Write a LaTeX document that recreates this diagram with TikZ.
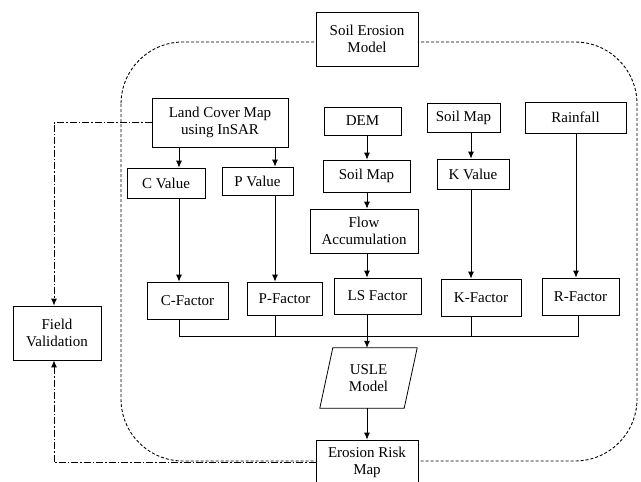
\documentclass[tikz,border=0pt]{standalone}
\usepackage{fontspec}
\setmainfont{Liberation Serif}
\usetikzlibrary{arrows.meta,calc}
\begin{document}
\begin{tikzpicture}[x=1pt,y=-1pt,
  box/.style={draw, line width=0.8pt, fill=white, align=center, inner sep=1pt,
    font=\fontsize{15}{17.5}\selectfont},
  plain/.style={align=center, inner sep=1pt, font=\fontsize{15}{17.5}\selectfont},
  arr/.style={line width=0.8pt, -{Latex[length=7pt,width=6pt]}},
  ln/.style={line width=0.8pt},
  dashbox/.style={line width=0.9pt, dash pattern=on 3pt off 2pt, rounded corners=62pt},
  dd/.style={line width=0.9pt, dash pattern=on 7pt off 2pt on 1.5pt off 2pt},
  ddarr/.style={dd, -{Latex[length=7pt,width=6pt]}}
]
\useasboundingbox (0,0) rectangle (641,482);
\fill[white] (0,0) rectangle (641,482);

% dashed model region
\draw[dashbox] (121,42) rectangle (637,461);

% column coordinates
\coordinate (colC) at (179,0);
\coordinate (colP) at (275,0);
\coordinate (colL) at (367,0);
\coordinate (colK) at (471,0);
\coordinate (colR) at (576,0);
\coordinate (colV) at (54,0);
\coordinate (busL) at (179,336);
\coordinate (busR) at (578,336);

% nodes
\node[box, minimum width=102pt, minimum height=54pt] (sem) at (367,39) {Soil Erosion\\Model};
\node[box, minimum width=136pt, minimum height=49pt] (lcm) at (220,122.5) {Land Cover Map\\using InSAR};
\node[box, minimum width=77pt, minimum height=28pt] (dem) at (362.5,121) {DEM};
\node[box, minimum width=73pt, minimum height=29pt] (smk) at (463.5,117.5) {Soil Map};
\node[box, minimum width=101pt, minimum height=31pt] (rain) at (575.5,117.5) {Rainfall};
\node[box, minimum width=78pt, minimum height=30pt] (cval) at (166,183) {C Value};
\node[box, minimum width=71pt, minimum height=28pt] (pval) at (257.5,181) {P Value};
\node[box, minimum width=87pt, minimum height=32pt] (sm1) at (366.5,176) {Soil Map};
\node[box, minimum width=72pt, minimum height=30pt] (kval) at (473,174) {K Value};
\node[box, minimum width=108pt, minimum height=44pt] (flow) at (364,231) {Flow\\Accumulation};
\node[box, minimum width=81pt, minimum height=37pt] (cfac) at (187.5,300.5) {C-Factor};
\node[box, minimum width=75pt, minimum height=33pt] (pfac) at (284.5,298.5) {P-Factor};
\node[box, minimum width=87pt, minimum height=36pt] (lsf) at (377.5,296) {LS Factor};
\node[box, minimum width=80pt, minimum height=37pt] (kfac) at (481,297.5) {K-Factor};
\node[box, minimum width=77pt, minimum height=37pt] (rfac) at (580.5,296.5) {R-Factor};
\node[plain, minimum width=97pt, minimum height=60pt] (usle) at (368.5,378) {USLE\\Model};
\draw[ln] ([xshift=13pt]usle.north west) -- (usle.north east)
  -- ([xshift=-13pt]usle.south east) -- (usle.south west) -- cycle;
\node[box, minimum width=102pt, minimum height=45pt] (erm) at (367,462.5) {Erosion Risk\\Map};
\node[box, minimum width=88pt, minimum height=54pt] (fv) at (57,333) {Field\\Validation};

% connectors
\draw[arr] (lcm.south -| colC) -- (cval.north -| colC);
\draw[arr] (lcm.south -| colP) -- (pval.north -| colP);
\draw[arr] (dem.south -| colL) -- (sm1.north -| colL);
\draw[arr] (sm1.south -| colL) -- (flow.north -| colL);
\draw[arr] (flow.south -| colL) -- (lsf.north -| colL);
\draw[arr] (smk.south -| colK) -- (kval.north -| colK);
\draw[arr] (cval.south -| colC) -- (cfac.north -| colC);
\draw[arr] (pval.south -| colP) -- (pfac.north -| colP);
\draw[arr] (kval.south -| colK) -- (kfac.north -| colK);
\draw[arr] (rain.south -| colR) -- (rfac.north -| colR);

% bus
\draw[ln] (cfac.south -| busL) -- (busL) -- (busR) -- (rfac.south -| busR);
\draw[ln] (pfac.south -| colP) -- (colP |- busL);
\draw[ln] (kfac.south -| colK) -- (colK |- busL);
\draw[arr] (lsf.south -| colL) -- (usle.north -| colL);
\draw[arr] (usle.south -| colL) -- (erm.north -| colL);

% validation links
\draw[ddarr] (lcm.west) -| (fv.north -| colV);
\draw[ddarr] (erm.west) -| (fv.south -| colV);
\end{tikzpicture}
\end{document}
